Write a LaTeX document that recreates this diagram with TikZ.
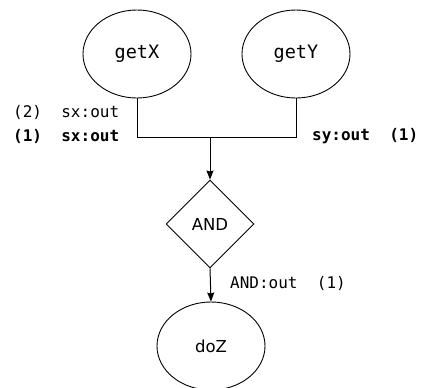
\documentclass[tikz,border=0pt]{standalone}
\usepackage{fontspec}
\usetikzlibrary{shapes.geometric,arrows.meta}
\newfontfamily\monof{DejaVu Sans Mono}
\newfontfamily\sansf{DejaVu Sans}
\tikzset{
  proc/.style={ellipse,draw,line width=0.9bp,minimum width=108bp,minimum height=88bp,inner sep=0pt,font=\monof\fontsize{18.5bp}{22bp}\selectfont},
  proc2/.style={ellipse,draw,line width=0.9bp,minimum width=108bp,minimum height=88bp,inner sep=0pt,font=\sansf\fontsize{16.5bp}{20bp}\selectfont},
  gate/.style={diamond,draw,line width=0.9bp,minimum width=88bp,minimum height=88bp,inner sep=0pt,aspect=1,font=\sansf\fontsize{16.5bp}{20bp}\selectfont},
  lbl/.style={anchor=west,inner sep=0pt,font=\monof\fontsize{16bp}{19bp}\selectfont},
  wire/.style={line width=1bp},
  arr/.style={line width=1bp,-{Stealth[length=9bp,width=7bp,inset=1bp]}}
}
\begin{document}
\begin{tikzpicture}[x=1bp,y=-1bp]
\path[use as bounding box] (0,0) rectangle (422,388);
\node[proc] (getX) at (137,54) {getX};
\node[proc] (getY) at (296,54) {getY};
\node[gate] (and) at (210,224) {AND};
\node[proc2] (doZ) at (211,346) {doZ};
\coordinate (j) at (210,137);
\draw[wire] (getX.south) -- (getX.south |- j) -- (j);
\draw[wire] (getY.south) -- (getY.south |- j) -- (j);
\draw[arr] (j) -- (and.north);
\draw[arr] (and.south) -- (doZ.north);
\node[lbl] (l2) at (13,112) {(2)\ \ sx:out};
\node[lbl,font=\monof\bfseries\fontsize{16bp}{19bp}\selectfont] (l1) at (13,136) {(1)\ \ sx:out};
\node[lbl,font=\monof\bfseries\fontsize{16bp}{19bp}\selectfont] (r1) at (312,136) {sy:out\ \ (1)};
\node[lbl] (a1) at (230,283) {AND:out\ \ (1)};
\end{tikzpicture}
\end{document}
